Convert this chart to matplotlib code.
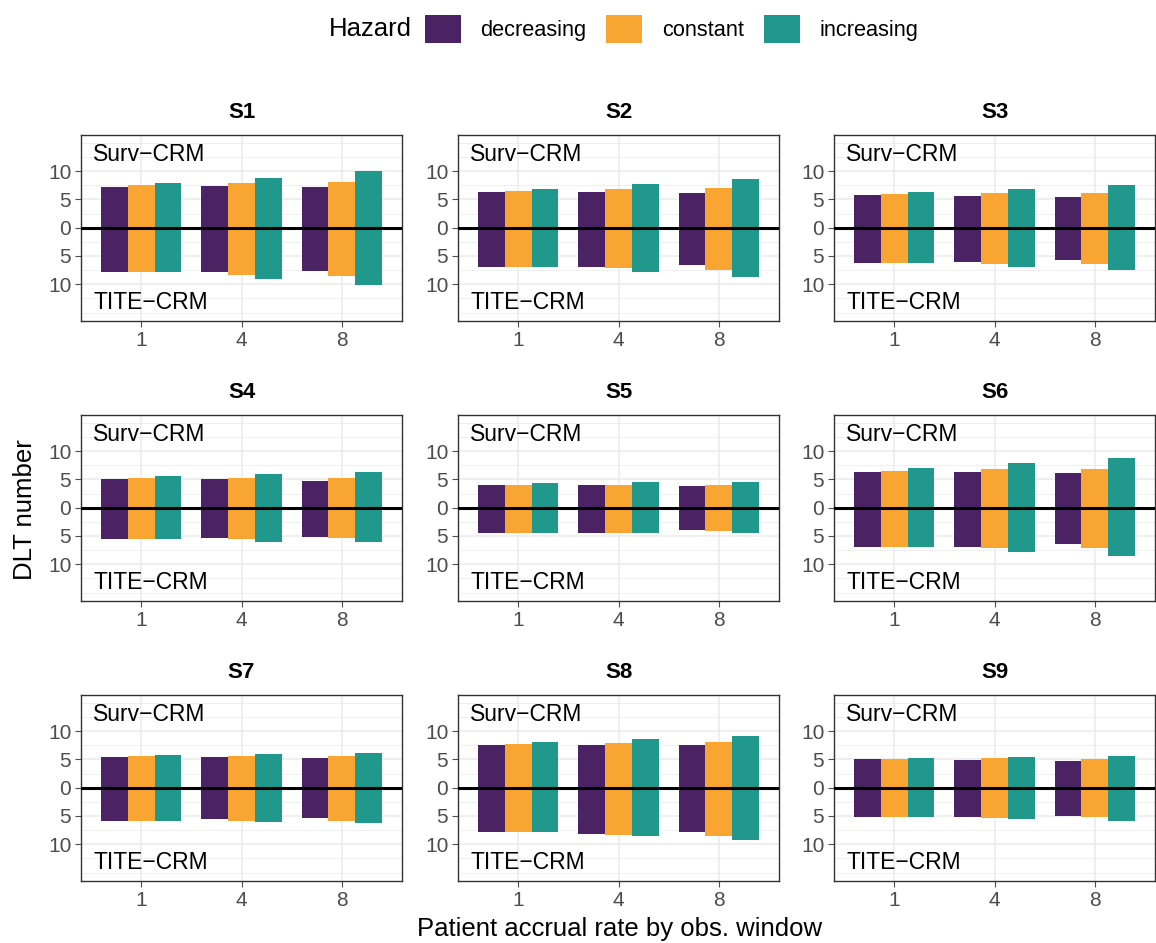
import numpy as np
import matplotlib.pyplot as plt
from matplotlib.patches import Patch

plt.rcParams['font.family'] = ['Liberation Sans', 'DejaVu Sans']

scenarios = ['S1', 'S2', 'S3', 'S4', 'S5', 'S6', 'S7', 'S8', 'S9']
accrual = ['1', '4', '8']
hazards = ['decreasing', 'constant', 'increasing']
colors = ['#4B2365', '#F8A532', '#20988B']

# DLT number, Surv-CRM (upper half), rows = scenario, cols = accrual rate 1, 4, 8
surv_decreasing = [[7.2, 7.3, 7.2], [6.3, 6.3, 6.1], [5.7, 5.6, 5.4],
                   [5.0, 5.0, 4.7], [4.1, 4.0, 3.8], [6.3, 6.3, 6.1],
                   [5.4, 5.4, 5.2], [7.5, 7.5, 7.5], [5.0, 4.9, 4.7]]
surv_constant = [[7.5, 7.9, 8.1], [6.5, 6.8, 7.0], [5.9, 6.1, 6.1],
                 [5.2, 5.2, 5.2], [4.1, 4.1, 4.1], [6.5, 6.8, 6.8],
                 [5.6, 5.6, 5.6], [7.7, 7.9, 8.1], [5.0, 5.2, 5.0]]
surv_increasing = [[7.9, 8.8, 10.0], [6.8, 7.7, 8.6], [6.3, 6.8, 7.5],
                   [5.6, 5.9, 6.3], [4.3, 4.5, 4.5], [7.0, 7.9, 8.8],
                   [5.7, 5.9, 6.1], [8.1, 8.6, 9.1], [5.2, 5.4, 5.6]]

# DLT number, TITE-CRM (lower half)
tite_decreasing = [[7.9, 7.9, 7.7], [7.0, 6.9, 6.6], [6.3, 6.1, 5.7],
                   [5.6, 5.4, 5.1], [4.5, 4.4, 4.0], [6.9, 6.9, 6.5],
                   [5.8, 5.6, 5.4], [7.9, 8.1, 7.9], [5.2, 5.2, 5.0]]
tite_constant = [[7.9, 8.3, 8.5], [7.0, 7.2, 7.4], [6.3, 6.5, 6.5],
                 [5.6, 5.6, 5.4], [4.5, 4.4, 4.2], [6.9, 7.2, 7.2],
                 [5.8, 5.8, 5.8], [7.9, 8.3, 8.5], [5.2, 5.4, 5.2]]
tite_increasing = [[7.9, 9.0, 10.2], [7.0, 7.9, 8.8], [6.3, 7.0, 7.5],
                   [5.6, 6.0, 6.1], [4.5, 4.5, 4.5], [6.9, 7.9, 8.6],
                   [5.8, 6.1, 6.3], [7.9, 8.6, 9.3], [5.2, 5.6, 5.8]]

surv = [surv_decreasing, surv_constant, surv_increasing]
tite = [tite_decreasing, tite_constant, tite_increasing]

W, H = 1156, 943
fig = plt.figure(figsize=(W / 100, H / 100), dpi=100)

lefts = [81, 458, 834]
tops = [135, 415, 695]
pw, ph = 321, 186

x = np.arange(1, 4)
bw = 0.8 / 3

for k, name in enumerate(scenarios):
    r, c = divmod(k, 3)
    ax = fig.add_axes([lefts[c] / W, 1 - (tops[r] + ph) / H, pw / W, ph / H])
    ax.set_xlim(0.4, 3.6)
    ax.set_ylim(-16.5, 16.4)

    # grid
    for yv in np.arange(-15, 15.1, 2.5):
        major = yv % 5 == 0 and abs(yv) <= 10
        ax.axhline(yv, color='#EBEBEB', lw=1.1 if major else 0.55, zorder=0)
    for xv in x:
        ax.axvline(xv, color='#EBEBEB', lw=1.1, zorder=0)

    for h in range(3):
        pos = x + (h - 1) * bw
        ax.bar(pos, surv[h][k], width=bw, color=colors[h], zorder=2)
        ax.bar(pos, [-v for v in tite[h][k]], width=bw, color=colors[h], zorder=2)

    ax.axhline(0, color='black', lw=2.2, zorder=3)

    ax.text(0.52, 12.9, 'Surv\u2212CRM', fontsize=16.5, va='center', ha='left', zorder=4)
    ax.text(0.52, -13.2, 'TITE\u2212CRM', fontsize=16.5, va='center', ha='left', zorder=4)

    ax.set_yticks([-10, -5, 0, 5, 10])
    ax.set_yticklabels(['10', '5', '0', '5', '10'])
    ax.set_xticks(x)
    ax.set_xticklabels(accrual)
    ax.tick_params(colors='#4D4D4D', labelsize=15, length=4, width=0.8, pad=3)
    for s in ax.spines.values():
        s.set_color('#333333')
        s.set_linewidth(1.0)

    ax.text(0.5, 1 + 23 / ph, name, transform=ax.transAxes, fontsize=16,
            fontweight='bold', ha='center', va='center')

fig.text(25 / W, 1 - 510 / H, 'DLT number', rotation=90, fontsize=18.5,
         ha='center', va='center')
fig.text(620 / W, 1 - 929 / H, 'Patient accrual rate by obs. window', fontsize=18.5,
         ha='center', va='center')

handles = [Patch(facecolor=col, edgecolor='none', label=lab) for col, lab in zip(colors, hazards)]
fig.legend(handles=handles, loc='center left', bbox_to_anchor=(425 / W, 1 - 29 / H), ncol=3,
           frameon=False, fontsize=15.7, borderpad=0, borderaxespad=0,
           handlelength=1.65, handleheight=1.65, handletextpad=0.9, columnspacing=0.9)
fig.text(412 / W, 1 - 29 / H, 'Hazard', fontsize=18.5, ha='right', va='center')

fig.savefig('out.png', dpi=100)
